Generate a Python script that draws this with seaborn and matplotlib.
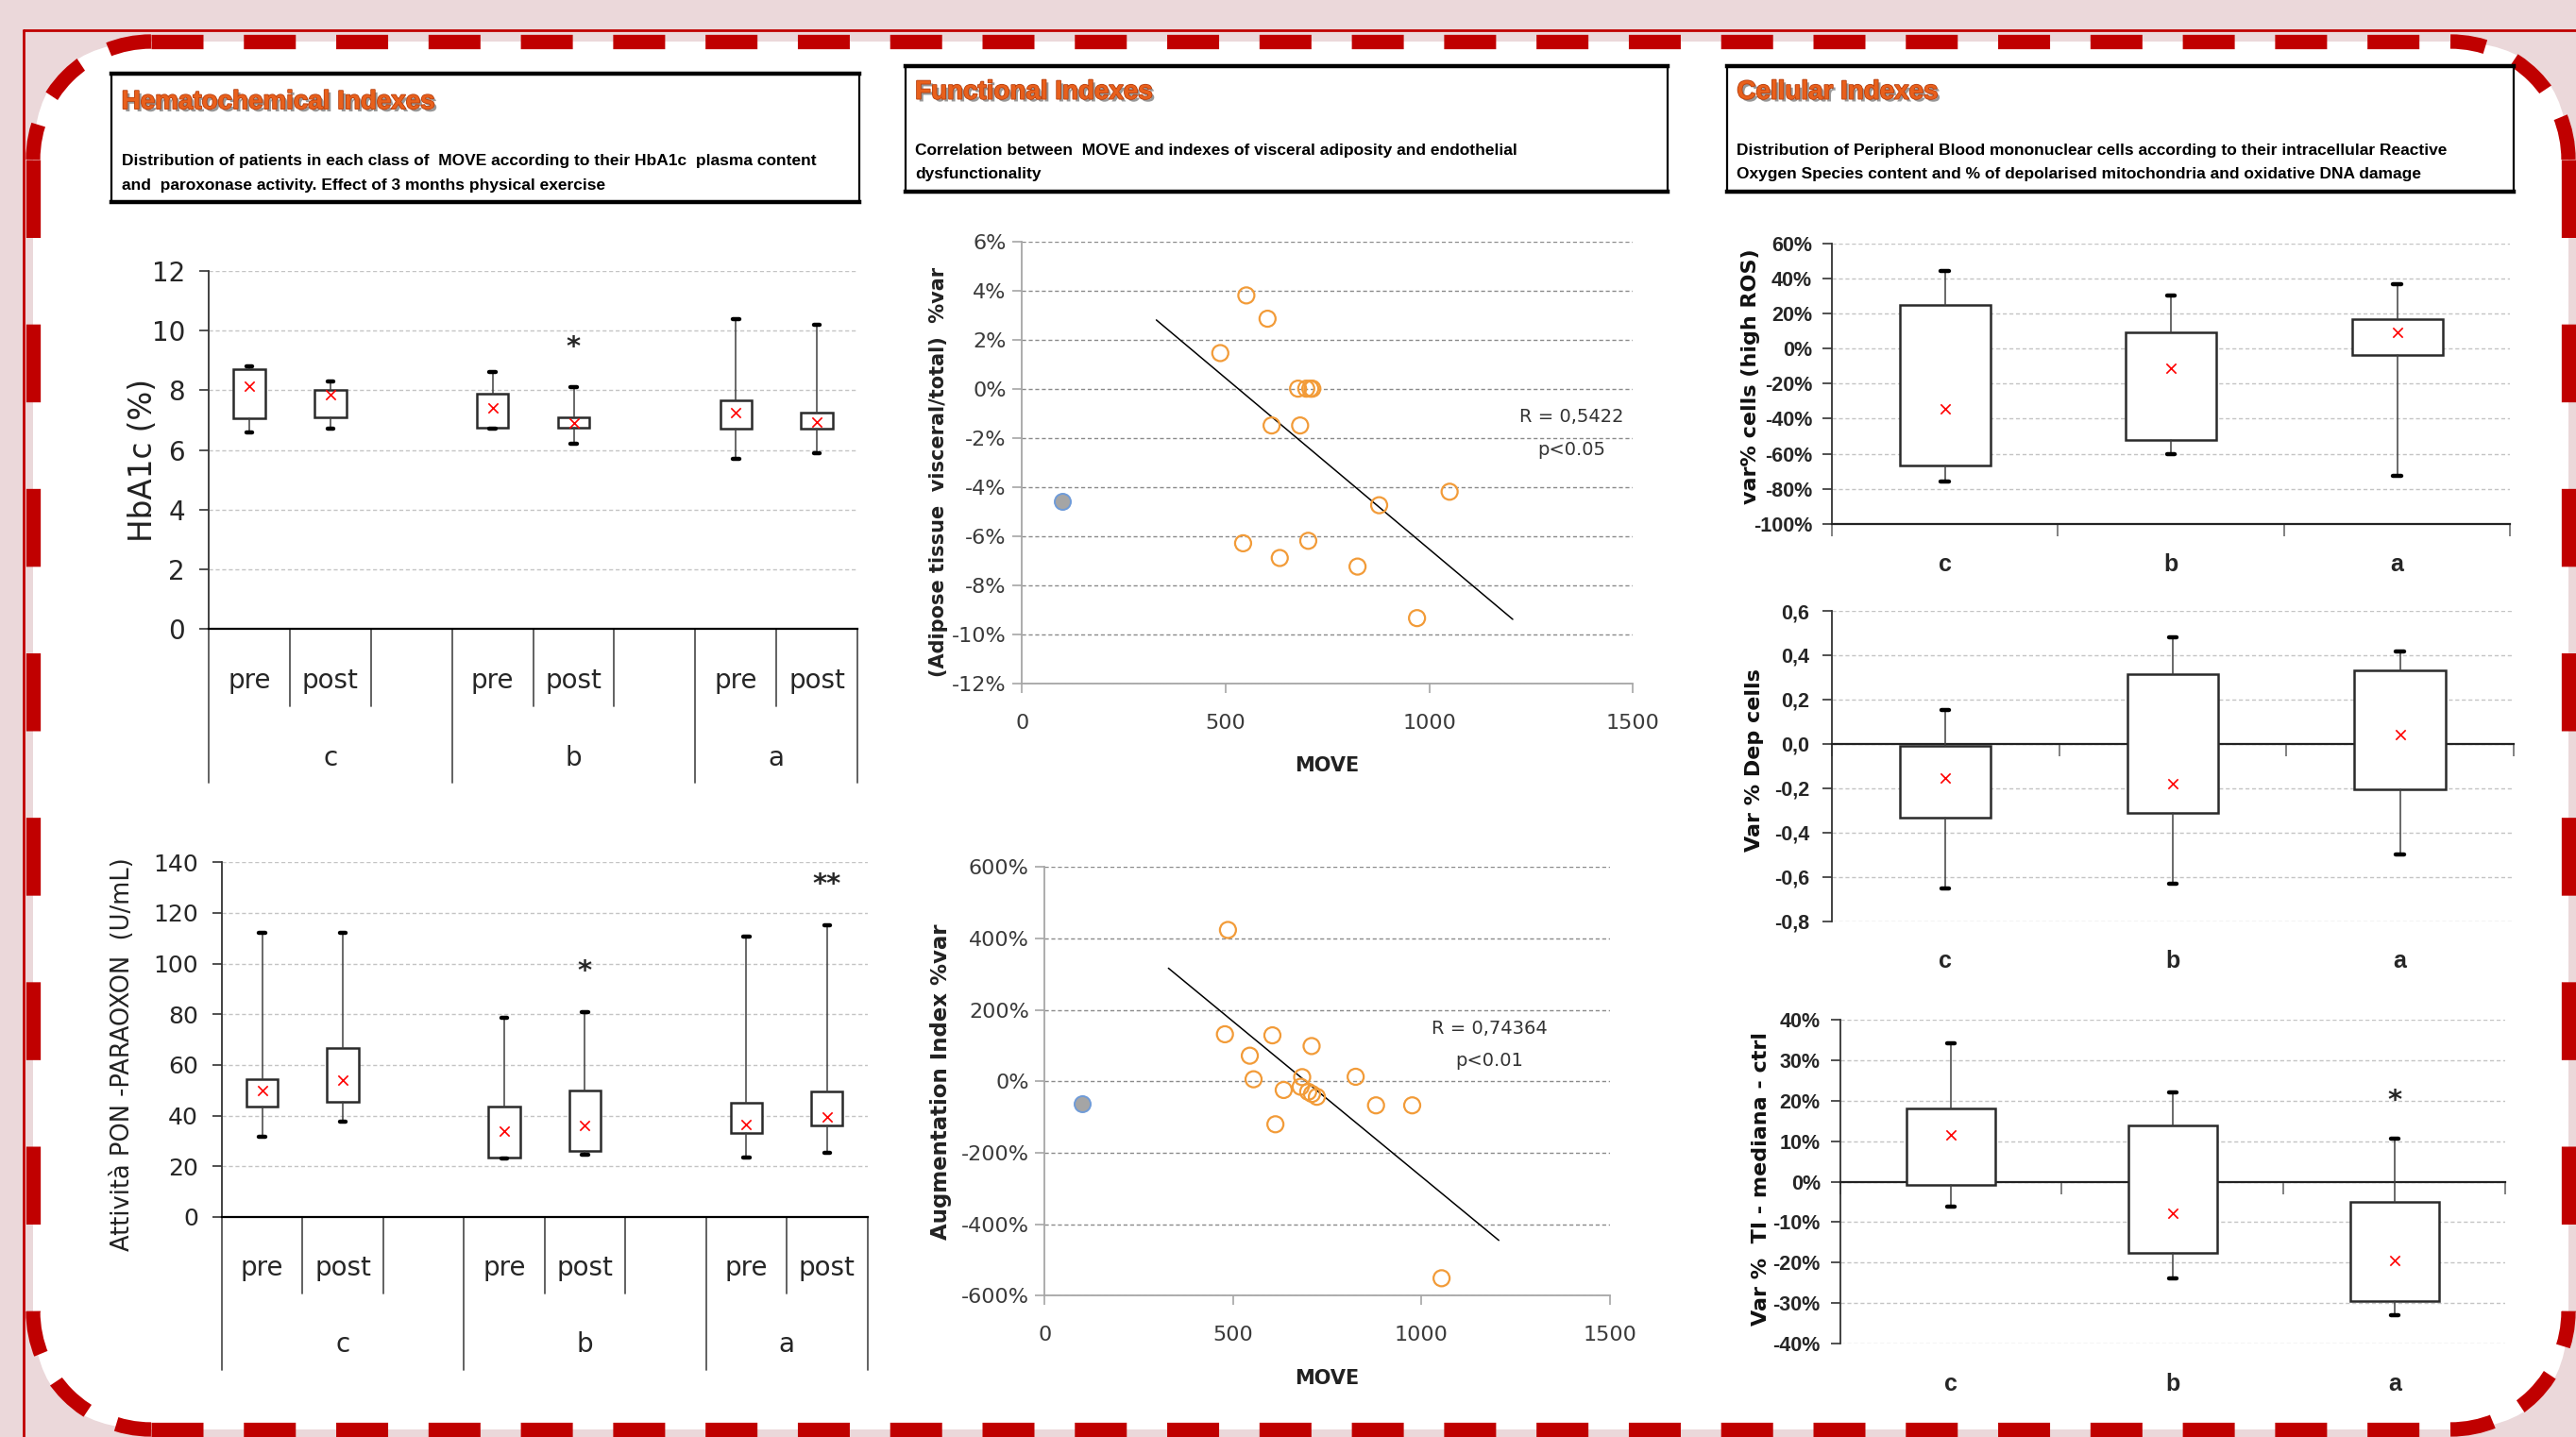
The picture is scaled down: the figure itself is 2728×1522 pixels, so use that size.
import numpy as np
import pandas as pd
import seaborn as sns
import matplotlib.pyplot as plt
import matplotlib.patheffects as pe
from matplotlib.patches import FancyBboxPatch, Arc
from matplotlib.lines import Line2D
from matplotlib.transforms import IdentityTransform, blended_transform_factory
from matplotlib.ticker import FuncFormatter, MultipleLocator

# -------- values --------
groups = ["c", "b", "a"]
phases = ["pre", "post"]

# HbA1c (%)  order: c pre, c post, b pre, b post, a pre, a post
hb_low = [6.6, 6.7, 6.7, 6.2, 5.7, 5.9]
hb_q1 = [7.05, 7.1, 6.75, 6.75, 6.7, 6.7]
hb_q3 = [8.7, 8.0, 7.9, 7.1, 7.65, 7.25]
hb_high = [8.8, 8.3, 8.6, 8.1, 10.4, 10.2]
hb_mean = [8.15, 7.85, 7.4, 6.9, 7.25, 6.95]
hb_sig = ["", "", "", "*", "", ""]
hb_sig_y = [0, 0, 0, 9.45, 0, 0]

# PON-paraoxon activity (U/mL)
pon_low = [31.5, 37.5, 23, 24.5, 23.5, 25.5]
pon_q1 = [43.5, 45.5, 23.5, 26, 33, 36]
pon_q3 = [54.5, 66.5, 43.5, 50, 45, 49.5]
pon_high = [112, 112, 78.5, 81, 110.5, 115]
pon_mean = [50, 54, 34, 36, 36.5, 39.5]
pon_sig = ["", "", "", "*", "", "**"]
pon_sig_y = [0, 0, 0, 97, 0, 131]

# MOVE vs adipose tissue visceral/total (%var)
adi_move = [551, 603, 487, 678, 698, 708, 713, 613, 683, 877, 1050, 543, 703, 633, 824, 970]
adi_var = [3.8, 2.85, 1.45, 0, 0, 0, 0, -1.5, -1.5, -4.75, -4.2, -6.3, -6.2, -6.9, -7.25, -9.35]
adi_out_move = [100]
adi_out_var = [-4.6]
adi_fit_move = [330, 1205]
adi_fit_var = [2.8, -9.4]

# MOVE vs augmentation index (%var)
aix_move = [486, 478, 604, 708, 544, 554, 683, 679, 634, 699, 709, 722, 825, 879, 975, 612, 1053]
aix_var = [424, 132, 129, 99, 72, 6, 12, -15, -24, -29, -35, -43, 13, -67, -67, -120, -551]
aix_out_move = [98]
aix_out_var = [-63]
aix_fit_move = [328, 1205]
aix_fit_var = [317, -445]

# var% cells (high ROS)
ros_low = [-75.6, -60.4, -72.7]
ros_q1 = [-66.9, -52.2, -3.5]
ros_q3 = [24.8, 9.1, 16.7]
ros_high = [44, 30, 36.8]
ros_mean = [-34.2, -11.4, 9]

# Var % Dep cells
dep_low = [-0.653, -0.629, -0.497]
dep_q1 = [-0.334, -0.311, -0.206]
dep_q3 = [-0.007, 0.316, 0.333]
dep_high = [0.151, 0.48, 0.416]
dep_mean = [-0.154, -0.181, 0.043]

# Var % TI - mediana - ctrl
ti_low = [-6.2, -23.8, -33]
ti_q1 = [-0.8, -17.7, -29.4]
ti_q3 = [18.1, 14, -4.9]
ti_high = [34.3, 22.2, 10.7]
ti_mean = [11.5, -7.9, -19.4]
ti_sig = ["", "", "*"]
ti_sig_y = [0, 0, 20]

# -------- style --------
sns.set_theme(style="white")
plt.rcParams["font.family"] = ["DejaVu Sans"]
TALL = ["Liberation Sans", "DejaVu Sans"]

PINK = "#EBD8DA"
RED = "#C00000"
GRID = "#C4C4C4"

W, H = 2728, 1522
fig = plt.figure(figsize=(W / 100, H / 100), dpi=100, facecolor=PINK)
px = IdentityTransform()

# -------- frame: thin red line + white rounded card with dashed red border --------
x0, x1, y0, y1, r = 35, 2720, 8, 1478, 125
fig.add_artist(FancyBboxPatch((x0, y0), x1 - x0, y1 - y0, boxstyle=f"round,pad=0,rounding_size={r}",
                              transform=px, facecolor="white", edgecolor="none", zorder=-3))
short_dash = (0, (3.6, 2.8))
long_dash = (0, (5.4, 6.0))
edge_kw = dict(transform=px, color=RED, lw=11, zorder=-2, solid_capstyle="butt")
fig.add_artist(Line2D([x0 + r, x1 - r], [y1, y1], linestyle=short_dash, **edge_kw))
fig.add_artist(Line2D([x0 + r, x1 - r], [y0, y0], linestyle=short_dash, **edge_kw))
fig.add_artist(Line2D([x0, x0], [y1 - r, y0 + r], linestyle=long_dash, **edge_kw))
fig.add_artist(Line2D([x1, x1], [y1 - r, y0 + r], linestyle=long_dash, **edge_kw))
for cx, cy, t1 in [(x0 + r, y1 - r, 90), (x1 - r, y1 - r, 0), (x0 + r, y0 + r, 180), (x1 - r, y0 + r, 270)]:
    fig.add_artist(Arc((cx, cy), 2 * r, 2 * r, theta1=t1, theta2=t1 + 90, transform=px,
                       edgecolor=RED, lw=11, linestyle=(0, (3.0, 2.2)), zorder=-2))
fig.add_artist(Line2D([25, W], [1490, 1490], transform=px, color=RED, lw=2, zorder=-1))
fig.add_artist(Line2D([25, 25], [0, 1490], transform=px, color=RED, lw=2, zorder=-1))


# -------- header boxes --------
def header(rect, title, lines, ty, ly):
    hx = fig.add_axes(rect)
    hx.set_facecolor("white")
    hx.set_xticks([])
    hx.set_yticks([])
    for s in hx.spines.values():
        s.set_color("black")
        s.set_linewidth(1.6)
    hx.spines["top"].set_linewidth(3.2)
    hx.spines["bottom"].set_linewidth(3.2)
    hx.text(0.013, ty, title, transform=hx.transAxes, family=TALL, fontsize=20,
            fontweight="bold", color="#E8601C", va="center", ha="left",
            path_effects=[pe.SimplePatchShadow(offset=(2, -2), shadow_rgbFace="#8C8C8C", alpha=0.9),
                          pe.Stroke(linewidth=1.2, foreground="#B8400F"), pe.Normal()])
    for t, y in zip(lines, ly):
        hx.text(0.013, y, t, transform=hx.transAxes, family=TALL, fontsize=12.5,
                fontweight="bold", color="black", va="center", ha="left")


header([0.0434, 0.8594, 0.2902, 0.0891], "Hematochemical Indexes",
       ["Distribution of patients in each class of  MOVE according to their HbA1c  plasma content",
        "and  paroxonase activity. Effect of 3 months physical exercise"], 0.78, [0.32, 0.13])
header([0.3514, 0.8663, 0.2959, 0.0880], "Functional Indexes",
       ["Correlation between  MOVE and indexes of visceral adiposity and endothelial",
        "dysfunctionality"], 0.79, [0.325, 0.14])
header([0.6703, 0.8663, 0.3055, 0.0880], "Cellular Indexes",
       ["Distribution of Peripheral Blood mononuclear cells according to their intracellular Reactive",
        "Oxygen Species content and % of depolarised mitochondria and oxidative DNA damage"],
       0.79, [0.325, 0.14])


# -------- box helpers --------
def draw_boxes(ax, pos, low, q1, q3, high, mean, width, capw):
    stats = [dict(whislo=l, q1=a, med=a, q3=b, whishi=h, fliers=[])
             for l, a, b, h in zip(low, q1, q3, high)]
    ax.bxp(stats, positions=pos, widths=width, capwidths=capw, patch_artist=True,
           showfliers=False, zorder=3,
           boxprops=dict(facecolor="white", edgecolor="#2A2A2A", linewidth=1.8),
           whiskerprops=dict(color="#404040", linewidth=1.1),
           capprops=dict(color="black", linewidth=3.2),
           medianprops=dict(linewidth=0))
    sns.scatterplot(x=pos, y=mean, marker="x", color="#FF0000", s=55, linewidth=1.2,
                    ax=ax, zorder=5, legend=False)


left_pos = [0, 1, 3, 4, 6, 7]
left_bounds = [-0.5, 0.5, 1.5, 2.5, 3.5, 4.5, 5.5, 6.5, 7.5]
left_long = [True, False, False, True, False, False, True, False, True]
left_centers = [1, 4, 6.5]


def left_panel(rect, low, q1, q3, high, mean, sig, sig_y, ymax, ystep,
               ylabel, ylab_fs, ylab_xy, tick_fs):
    ax = fig.add_axes(rect)
    ax.set_facecolor("none")
    draw_boxes(ax, left_pos, low, q1, q3, high, mean, 0.39, 0.075)
    for p, s, y in zip(left_pos, sig, sig_y):
        if s:
            ax.text(p, y, s, ha="center", va="center", fontsize=21, fontweight="bold")
    ax.set_xlim(-0.5, 7.5)
    ax.set_ylim(0, ymax)
    ax.yaxis.set_major_locator(MultipleLocator(ystep))
    ax.grid(axis="y", linestyle=(0, (3, 2)), color=GRID, linewidth=1)
    ax.set_axisbelow(True)
    for s in ["top", "right"]:
        ax.spines[s].set_visible(False)
    ax.spines["left"].set_color("#333333")
    ax.spines["left"].set_linewidth(1.3)
    ax.spines["bottom"].set_color("black")
    ax.spines["bottom"].set_linewidth(1.6)
    ax.set_xticks(left_bounds)
    ax.set_xticklabels([])
    ax.tick_params(axis="x", direction="out", length=5, width=2.2, color="#333333")
    ax.tick_params(axis="y", direction="out", length=7, width=1.2, color="#333333",
                   labelsize=tick_fs, pad=11, left=True)
    ax.set_xlabel("")
    ax.set_ylabel(ylabel, fontsize=ylab_fs, color="#222222")
    ax.yaxis.label.set_va("center")
    ax.yaxis.set_label_coords(*ylab_xy)
    tr = blended_transform_factory(ax.transData, ax.transAxes)
    for b, lg in zip(left_bounds, left_long):
        ax.add_line(Line2D([b, b], [0, -0.43 if lg else -0.215], transform=tr,
                           clip_on=False, color="#555555", lw=1.3))
    for p, ph in zip(left_pos, phases * 3):
        ax.text(p, -0.145, ph, transform=tr, ha="center", va="center", fontsize=20)
    for c, g in zip(left_centers, groups):
        ax.text(c, -0.36, g, transform=tr, ha="center", va="center", fontsize=20)
    return ax


left_panel([0.0810, 0.5623, 0.2519, 0.2491], hb_low, hb_q1, hb_q3, hb_high, hb_mean,
           hb_sig, hb_sig_y, 12, 2, "HbA1c (%)", 23.5, (-0.101, 0.47), 20)
left_panel([0.0861, 0.1531, 0.2506, 0.2469], pon_low, pon_q1, pon_q3, pon_high, pon_mean,
           pon_sig, pon_sig_y, 140, 20, "Attività PON -PARAOXON  (U/mL)", 18.5, (-0.153, 0.458), 18)


# -------- scatter panels --------
def scatter_panel(rect, mx, vy, ox, oy, fx, fy, ylim, ystep, ylabel, ylab_fs, ylab_xy,
                  move_y, rtxt, rxy):
    ax = fig.add_axes(rect)
    ax.set_facecolor("none")
    sns.lineplot(x=fx, y=fy, color="black", linewidth=1.1, ax=ax, zorder=3)
    sns.scatterplot(x=mx, y=vy, s=150, color="#F29B38", facecolor="none", edgecolor="#F29B38",
                    linewidth=1.6, ax=ax, zorder=4, legend=False)
    sns.scatterplot(x=ox, y=oy, s=150, color="#A5A5A5", edgecolor="#6F9BD8",
                    linewidth=1.4, ax=ax, zorder=4, legend=False)
    ax.set_xlim(0, 1500)
    ax.set_ylim(*ylim)
    ax.set_xticks([0, 500, 1000, 1500])
    ax.yaxis.set_major_locator(MultipleLocator(ystep))
    ax.yaxis.set_major_formatter(FuncFormatter(lambda v, p: f"{v:.0f}%"))
    ax.grid(axis="y", linestyle=(0, (3, 2)), color="#8A8A8A", linewidth=1)
    ax.set_axisbelow(True)
    for s in ["top", "right"]:
        ax.spines[s].set_visible(False)
    for s in ["left", "bottom"]:
        ax.spines[s].set_color("#A6A6A6")
        ax.spines[s].set_linewidth(1.3)
    ax.tick_params(direction="out", length=7, width=1.2, color="#A6A6A6",
                   labelsize=16, labelcolor="#3A3A3A", left=True, bottom=True)
    ax.tick_params(axis="x", pad=16)
    ax.tick_params(axis="y", pad=5)
    ax.set_xlabel("MOVE", fontsize=15, fontweight="bold", color="#222222")
    ax.xaxis.set_label_coords(0.5, move_y)
    ax.xaxis.label.set_va("center")
    ax.set_ylabel(ylabel, fontsize=ylab_fs, fontweight="bold", color="#222222")
    ax.yaxis.label.set_va("center")
    ax.yaxis.set_label_coords(*ylab_xy)
    ax.text(rxy[0], rxy[1], rtxt[0], ha="center", va="center", fontsize=14, color="#333333")
    ax.text(rxy[0], rxy[2], rtxt[1], ha="center", va="center", fontsize=14, color="#333333")
    return ax


scatter_panel([0.3967, 0.5246, 0.2372, 0.3074], adi_move, adi_var, adi_out_move, adi_out_var,
              adi_fit_move, adi_fit_var, (-12, 6), 2,
              "(Adipose tissue  visceral/total)  %var", 15, (-0.137, 0.478), -0.186,
              ["R = 0,5422", "p<0.05"], (1350, -1.15, -2.5))
scatter_panel([0.4056, 0.0983, 0.2194, 0.2983], aix_move, aix_var, aix_out_move, aix_out_var,
              aix_fit_move, aix_fit_var, (-600, 600), 200,
              "Augmentation Index %var", 16.5, (-0.183, 0.5), -0.192,
              ["R = 0,74364", "p<0.01"], (1180, 149, 59))


# -------- right box panels --------
def right_panel(rect, low, q1, q3, high, mean, ylim, ystep, fmt, ylabel, ylab_xy,
                zero_axis, cat_y, ytick_pad, sig=None, sig_y=None):
    ax = fig.add_axes(rect)
    ax.set_facecolor("none")
    pos = [0, 1, 2]
    draw_boxes(ax, pos, low, q1, q3, high, mean, 0.40, 0.035)
    if sig:
        for p, s, y in zip(pos, sig, sig_y):
            if s:
                ax.text(p, y, s, ha="center", va="center", fontsize=21, fontweight="bold")
    ax.set_xlim(-0.5, 2.5)
    ax.set_ylim(*ylim)
    ax.yaxis.set_major_locator(MultipleLocator(ystep))
    ax.yaxis.set_major_formatter(FuncFormatter(fmt))
    ax.grid(axis="y", linestyle=(0, (3, 2)), color=GRID, linewidth=1)
    ax.set_axisbelow(True)
    for s in ["top", "right"]:
        ax.spines[s].set_visible(False)
    ax.spines["left"].set_color("#333333")
    ax.spines["left"].set_linewidth(1.3)
    ax.spines["bottom"].set_color("#222222")
    ax.spines["bottom"].set_linewidth(1.6)
    if zero_axis:
        ax.spines["bottom"].set_position(("data", 0))
    ax.set_xticks([-0.5, 0.5, 1.5, 2.5])
    ax.set_xticklabels([])
    ax.tick_params(axis="x", direction="out", length=9, width=1.3, color="#777777", bottom=True)
    ax.tick_params(axis="y", direction="out", length=7, width=1.2, color="#333333",
                   pad=ytick_pad, left=True)
    for lab in ax.get_yticklabels():
        lab.set_family(TALL)
        lab.set_fontweight("bold")
        lab.set_fontsize(15.5)
    ax.set_xlabel("")
    ax.set_ylabel(ylabel, fontsize=16, fontweight="bold", color="#111111")
    ax.yaxis.label.set_va("center")
    ax.yaxis.set_label_coords(*ylab_xy)
    tr = blended_transform_factory(ax.transData, ax.transAxes)
    for p, g in zip(pos, groups):
        ax.text(p, cat_y, g, transform=tr, ha="center", va="center", family=TALL,
                fontsize=18, fontweight="bold")
    return ax


pct = lambda v, p: f"{v:.0f}%"
dec = lambda v, p: f"{v:.1f}".replace(".", ",").replace("-0,0", "0,0")

right_panel([0.7111, 0.6354, 0.2634, 0.1954], ros_low, ros_q1, ros_q3, ros_high, ros_mean,
            (-100, 60), 20, pct, "var% cells (high ROS)", (-0.119, 0.526), False, -0.146, 8)
right_panel([0.7111, 0.3589, 0.2647, 0.2160], dep_low, dep_q1, dep_q3, dep_high, dep_mean,
            (-0.8, 0.6), 0.2, dec, "Var % Dep cells", (-0.113, 0.52), True, -0.127, 10)
right_panel([0.7143, 0.0651, 0.2583, 0.2251], ti_low, ti_q1, ti_q3, ti_high, ti_mean,
            (-40, 40), 10, pct, "Var %  TI - mediana - ctrl", (-0.119, 0.51), True, -0.127, 8,
            ti_sig, ti_sig_y)

fig.savefig("out.png", dpi=100, facecolor=PINK)
